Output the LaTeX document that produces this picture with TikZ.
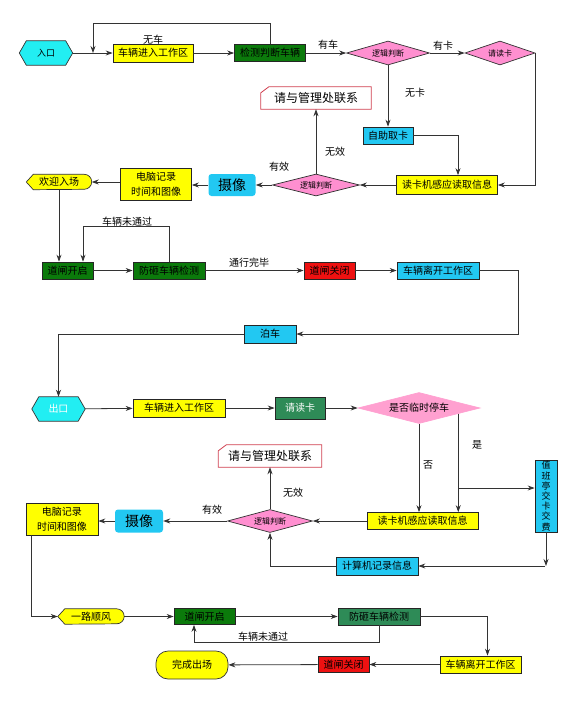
\documentclass[tikz,border=0pt]{standalone}
\usepackage{fontspec}
\setmainfont{Noto Sans CJK SC}
\usetikzlibrary{shapes.geometric,arrows.meta,calc,backgrounds}
\definecolor{cyanA}{HTML}{22EEF2}
\definecolor{yel}{HTML}{FFFF00}
\definecolor{dgreen}{HTML}{0B7A0B}
\definecolor{sgreen}{HTML}{2E8B57}
\definecolor{pinkA}{HTML}{FF8FD0}
\definecolor{pinkB}{HTML}{FFA0D0}
\definecolor{skyb}{HTML}{22C8F2}
\definecolor{redA}{HTML}{EE1111}
\definecolor{lineC}{HTML}{333333}
\definecolor{cardred}{HTML}{D04050}
\newcommand{\drawhex}[2]{\filldraw[draw=black!80, line width=0.7pt, fill=#2] (#1.west) -- ($(#1.north west)+(7pt,0pt)$) -- ($(#1.north east)+(-7pt,0pt)$) -- (#1.east) -- ($(#1.south east)+(-7pt,0pt)$) -- ($(#1.south west)+(7pt,0pt)$) -- cycle;}
\newcommand{\drawdisp}[2]{\filldraw[draw=black!80, line width=0.7pt, fill=#2] (#1.west) -- ($(#1.north west)+(7pt,0pt)$) -- ($(#1.north east)+(-7.5pt,0pt)$) arc[start angle=90, end angle=-90, radius=7.5pt] -- ($(#1.south west)+(7pt,0pt)$) -- cycle;}
\newcommand{\drawcard}[1]{\filldraw[draw=cardred, line width=0.8pt, fill=white] ($(#1.north west)+(0pt,-6pt)$) -- ($(#1.north west)+(8pt,0pt)$) -- (#1.north east) -- (#1.south east) -- (#1.south west) -- cycle;}
\tikzset{
  sz/.style 2 args={minimum width=#1pt, minimum height=#2pt},
  bx/.style={rectangle, draw=black!85, line width=0.7pt, inner sep=0pt, font=\fontsize{10}{11}\selectfont},
  plain/.style={rectangle, inner sep=0pt, font=\fontsize{10}{11}\selectfont},
  dm/.style={diamond, draw=black!80, line width=0.7pt, fill=pinkA, inner sep=0pt, aspect=3.5, font=\fontsize{8}{9}\selectfont},
  cambox/.style={rectangle, rounded corners=3pt, fill=skyb, inner sep=0pt, font=\fontsize{14}{15}\selectfont},
  ln/.style={draw=lineC, line width=0.8pt},
  ar/.style={ln, -{Stealth[length=7pt,width=5pt]}},
  lbl/.style={font=\fontsize{10}{11}\selectfont, inner sep=1pt},
}
\begin{document}
\begin{tikzpicture}[x=1pt,y=-1pt]
\useasboundingbox (0,0) rectangle (584,718);
% ---------- top part ----------
\node[plain, sz={53}{24}, font=\fontsize{9}{10}\selectfont] (in) at (46,53) {入口};
\node[bx, sz={80}{18}, fill=yel] (enter1) at (153,53) {车辆进入工作区};
\node[bx, sz={71}{17}, fill=dgreen] (detect) at (270,53) {检测判断车辆};
\node[dm, sz={83}{24}] (logic1) at (388,53) {逻辑判断};
\node[dm, sz={70}{24}] (readcard1) at (500,53) {请读卡};
\node[bx, sz={50}{17}, fill=skyb] (selfcard) at (388,135.5) {自助取卡};
\node[bx, sz={101}{19}, fill=yel] (reader1) at (447,185) {读卡机感应读取信息};
\node[dm, sz={87}{22}] (logic2) at (316,185) {逻辑判断};
\node[plain, sz={110}{22}, font=\fontsize{12}{13}\selectfont] (card1) at (316,98) {请与管理处联系};
\node[cambox, sz={47}{22}] (cam1) at (232,185) {摄像};
\node[bx, sz={71}{32}, fill=yel, align=center, font=\fontsize{10}{15}\selectfont] (pc1) at (156,184) {电脑记录\\时间和图像};
\node[plain, sz={65}{15}] (welcome) at (59,182) {欢迎入场};
\node[bx, sz={51}{17}, fill=dgreen] (gate1) at (67.5,270.5) {道闸开启};
\node[bx, sz={72}{17}, fill=dgreen] (check1) at (169,270.5) {防砸车辆检测};
\node[bx, sz={51}{17}, fill=redA] (close1) at (329.5,270.5) {道闸关闭};
\node[bx, sz={82}{17}, fill=skyb] (leave1) at (438,270.5) {车辆离开工作区};
\node[bx, sz={52}{18}, fill=skyb] (park) at (270,334) {泊车};
% ---------- bottom part ----------
\node[plain, sz={53}{24}, text=white] (exit) at (58.5,409) {出口};
\node[bx, sz={92}{18}, fill=yel] (enter2) at (179,408) {车辆进入工作区};
\node[bx, sz={50}{22}, fill=sgreen, text=white] (readcard2) at (300,408) {请读卡};
\node[dm, sz={122}{31}, fill=pinkB, draw=pinkB, font=\fontsize{10}{11}\selectfont] (temp) at (419,408) {是否临时停车};
\node[bx, sz={22}{72}, fill=skyb, align=center, font=\fontsize{9}{10.2}\selectfont] (duty) at (546,496) {值\\班\\亭\\交\\卡\\交\\费};
\node[bx, sz={111}{17}, fill=yel] (reader2) at (422.5,521) {读卡机感应读取信息};
\node[bx, sz={82}{18}, fill=skyb] (comp) at (377,566) {计算机记录信息};
\node[dm, sz={85}{23}] (logic3) at (270,521) {逻辑判断};
\node[plain, sz={103}{22}, font=\fontsize{12}{13}\selectfont] (card2) at (270,456) {请与管理处联系};
\node[cambox, sz={48}{23}] (cam2) at (139,521) {摄像};
\node[bx, sz={72}{32}, fill=yel, align=center, font=\fontsize{10}{15}\selectfont] (pc2) at (62,519) {电脑记录\\时间和图像};
\node[plain, sz={66}{15}] (bye) at (91,616.5) {一路顺风};
\node[bx, sz={61}{16}, fill=dgreen] (gate2) at (204.5,616.5) {道闸开启};
\node[bx, sz={82}{17}, fill=sgreen] (check2) at (379,616.5) {防砸车辆检测};
\node[bx, sz={81}{17}, fill=yel] (leave2) at (480.5,664.5) {车辆离开工作区};
\node[bx, sz={51}{16}, fill=redA] (close2) at (343.5,664.5) {道闸关闭};
\node[plain, sz={72}{28}, draw=black!80, line width=0.7pt, fill=yel, rounded corners=12pt] (done) at (192,665) {完成出场};
% ---------- background shapes ----------
\begin{scope}[on background layer]
\drawhex{in}{cyanA}
\drawhex{exit}{cyanA}
\drawdisp{welcome}{yel}
\drawdisp{bye}{yel}
\drawcard{card1}
\drawcard{card2}
\end{scope}
% ---------- connectors, top ----------
\coordinate (j1) at (93,53);
\coordinate (t1) at (93,23);
\draw[ar] (in) -- (enter1);
\draw[ar] (enter1) -- (detect);
\draw[ar] (detect.north) |- (t1) -- (j1);
\draw[ar] (detect) -- (logic1);
\draw[ar] (logic1) -- (readcard1);
\draw[ar] (logic1) -- (selfcard);
\draw[ar] (selfcard.east) -| ($(reader1.north)+(11pt,0pt)$);
\draw[ar] (readcard1.east) |- (reader1.east);
\draw[ar] (reader1) -- (logic2);
\draw[ar] (logic2) -- (card1);
\draw[ar] (logic2) -- (cam1);
\draw[ar] (cam1) -- (pc1.east |- cam1);
\draw[ar] (pc1.west |- welcome) -- (welcome.east);
\draw[ar] (welcome.south) -- (welcome.south |- gate1.north);
\coordinate (t2) at (83,226);
\draw[ar] (check1.north) |- (t2) -- (t2 |- gate1.north);
\draw[ar] (gate1) -- (check1);
\draw[ar] (check1) -- (close1);
\draw[ar] (close1) -- (leave1);
\coordinate (t3) at (518,270.5);
\draw[ar] (leave1.east) -- (t3) |- (park);
\draw[ar] (park.west) -| (exit.north);
% ---------- connectors, bottom ----------
\draw[ar] (exit) -- (enter2);
\draw[ar] (enter2) -- (readcard2);
\draw[ar] (readcard2) -- (temp);
\draw[ar] (temp.south) -- (temp.south |- reader2.north);
\coordinate (ys) at ($(temp.east)!0.36!(temp.south)$);
\coordinate (yline) at (0,488);
\draw[ar] (ys) -- (ys |- reader2.north);
\draw[ar] (ys |- yline) -- (duty.west |- yline);
\draw[ar] (duty.south) -- (duty.south |- comp);
\draw[ar] ($(duty.south |- comp)+(-1pt,0pt)$) -- (comp.east);
\draw[ar] (comp.west) -| (logic3.south);
\draw[ar] (reader2) -- (logic3);
\draw[ar] (logic3) -- (card2);
\draw[ar] (logic3) -- (cam2);
\draw[ar] (cam2) -- (pc2.east |- cam2);
\draw[ar] ($(pc2.south west)+(6pt,0pt)$) |- (bye.west);
\draw[ar] (bye) -- (gate2);
\draw[ar] (gate2) -- (check2);
\draw[ar] (check2.east) -| ($(leave2.north)+(7pt,0pt)$);
\coordinate (t4) at (194,642);
\draw[ar] (check2.south) |- (t4) -- (t4 |- gate2.south);
\draw[ar] (leave2) -- (close2);
\draw[ar] (close2) -- (done);
% ---------- labels ----------
\node[lbl] (l1) at (153,40) {无车};
\node[lbl] (l2) at (328,45) {有车};
\node[lbl] (l3) at (443,46) {有卡};
\node[lbl] (l4) at (415,93) {无卡};
\node[lbl] (l5) at (335,152) {无效};
\node[lbl] (l6) at (279,167) {有效};
\node[lbl] (l7) at (127,222) {车辆未通过};
\node[lbl] (l8) at (249,263) {通行完毕};
\node[lbl] (l9) at (428,465) {否};
\node[lbl] (l10) at (477,445) {是};
\node[lbl] (l11) at (293,493) {无效};
\node[lbl] (l12) at (212,510) {有效};
\node[lbl] (l13) at (263,637) {车辆未通过};
\end{tikzpicture}
\end{document}
